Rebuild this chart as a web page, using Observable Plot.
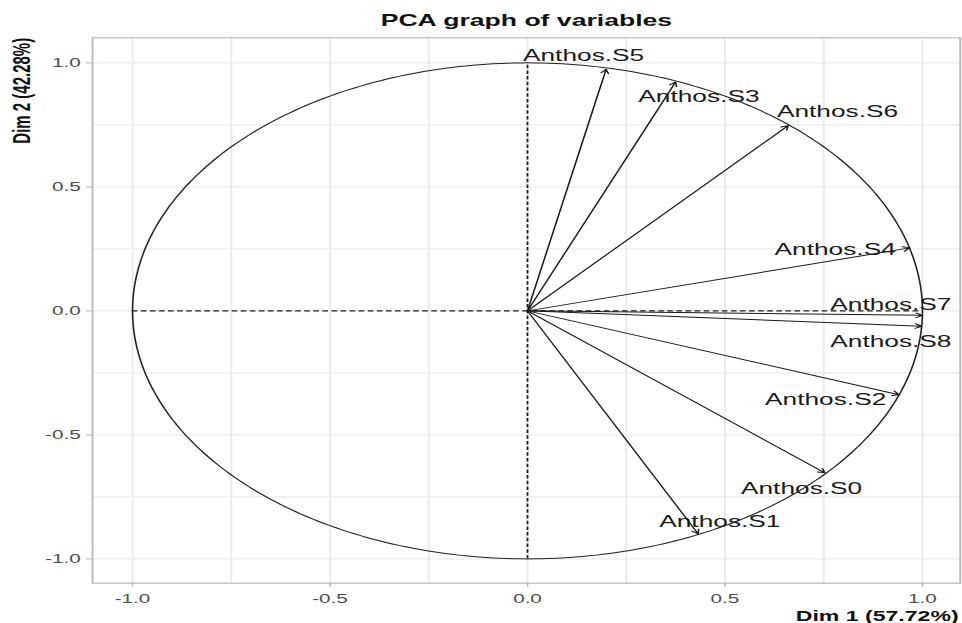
<!DOCTYPE html>
<html>
<head>
<meta charset="utf-8">
<script src="https://cdn.jsdelivr.net/npm/d3@7"></script>
<script src="https://cdn.jsdelivr.net/npm/@observablehq/plot@0.6"></script>
<style>
  html, body { margin: 0; padding: 0; background: #fff; }
  #chart svg { display: block; }
</style>
</head>
<body>
<div id="chart"></div>
<script>
// Variable coordinates on the first two principal dimensions
const variables = ["Anthos.S0", "Anthos.S1", "Anthos.S2", "Anthos.S3", "Anthos.S4",
                   "Anthos.S5", "Anthos.S6", "Anthos.S7", "Anthos.S8"];
const dim1 = [0.753, 0.432, 0.941, 0.375, 0.968, 0.199, 0.660, 1.000, 0.998];
const dim2 = [-0.653, -0.899, -0.338, 0.923, 0.254, 0.974, 0.747, -0.018, -0.062];

// Where each variable name sits (repelled away from the arrow tips)
const labelDim1 = [0.694, 0.487, 0.755, 0.434, 0.779, 0.142, 0.785, 0.920, 0.920];
const labelDim2 = [-0.738, -0.870, -0.378, 0.841, 0.226, 1.006, 0.781, 0.004, -0.144];

const axisTicks = [-1, -0.5, 0, 0.5, 1];
const gridTicks = [-1, -0.75, -0.5, -0.25, 0, 0.25, 0.5, 0.75, 1];
const titleText = "PCA graph of variables";
const xTitle = "Dim 1 (57.72%)";
const yTitle = "Dim 2 (42.28%)";

const rows = variables.map((name, i) => ({
  name, x: dim1[i], y: dim2[i], lx: labelDim1[i], ly: labelDim2[i]
}));

// Unit correlation circle
const circle = d3.range(0, 361).map(a => ({
  x: Math.cos(a * Math.PI / 180),
  y: Math.sin(a * Math.PI / 180)
}));

// The drawing is laid out at a narrower width, then stretched horizontally
const W = 962, H = 623;
const stretch = 395 / 248;
const w = W / stretch;

const ink = "#1a1a1a";

const chart = Plot.plot({
  width: w,
  height: H,
  marginLeft: 57.6,
  marginRight: 1.6,
  marginTop: 37.3,
  marginBottom: 40.3,
  x: {domain: [-1.1013, 1.0957]},
  y: {domain: [-1.098, 1.101]},
  style: {fontFamily: "'Liberation Sans', Arial, sans-serif", background: "#fff"},
  marks: [
    Plot.gridX(gridTicks, {stroke: "#ebebeb", strokeOpacity: 1, strokeWidth: 1.3}),
    Plot.gridY(gridTicks, {stroke: "#ebebeb", strokeOpacity: 1, strokeWidth: 1.3}),
    Plot.frame({stroke: "#b8b8b8", strokeWidth: 1.2}),
    Plot.axisX(axisTicks, {
      tickSize: 4, tickPadding: 7, tickFormat: d => d.toFixed(1),
      fontSize: 13, fill: "#4d4d4d", stroke: "#b8b8b8", label: null
    }),
    Plot.axisY(axisTicks, {
      tickSize: 3.6, tickPadding: 3.8, tickFormat: d => d.toFixed(1),
      fontSize: 13, fill: "#4d4d4d", stroke: "#b8b8b8", label: null
    }),
    Plot.line(circle, {x: "x", y: "y", stroke: "#222", strokeWidth: 1}),
    Plot.ruleY([0], {x1: -1, x2: 1, stroke: ink, strokeWidth: 1.1, strokeDasharray: "3.5,2.2"}),
    Plot.ruleX([0], {y1: -1, y2: 1, stroke: ink, strokeWidth: 1.1, strokeDasharray: "3.5,2.2"}),
    Plot.arrow(rows, {
      x1: 0, y1: 0, x2: "x", y2: "y",
      stroke: ink, strokeWidth: 1, headLength: 7, headAngle: 60
    }),
    Plot.text(rows, {
      x: "lx", y: "ly", text: "name",
      fontSize: 16.5, lineAnchor: "bottom", fill: ink
    }),
    Plot.text([titleText], {
      frameAnchor: "top", lineAnchor: "bottom", dy: -12.3,
      fontSize: 16.7, fontWeight: "bold", fill: "#111"
    }),
    Plot.text([xTitle], {
      frameAnchor: "bottom-right", textAnchor: "end", lineAnchor: "bottom",
      dx: -1, dy: 37.5, fontSize: 14.5, fontWeight: "bold", fill: "#111"
    }),
    Plot.text([yTitle], {
      frameAnchor: "top-left", textAnchor: "end", lineAnchor: "middle", rotate: -90,
      dx: -43.8, fontSize: 15, fontWeight: "bold", fill: "#111"
    })
  ]
});

chart.setAttribute("width", W);
chart.setAttribute("height", H);
chart.setAttribute("preserveAspectRatio", "none");
chart.style.width = W + "px";
chart.style.height = H + "px";
chart.style.maxWidth = "none";

document.getElementById("chart").appendChild(chart);
</script>
</body>
</html>
